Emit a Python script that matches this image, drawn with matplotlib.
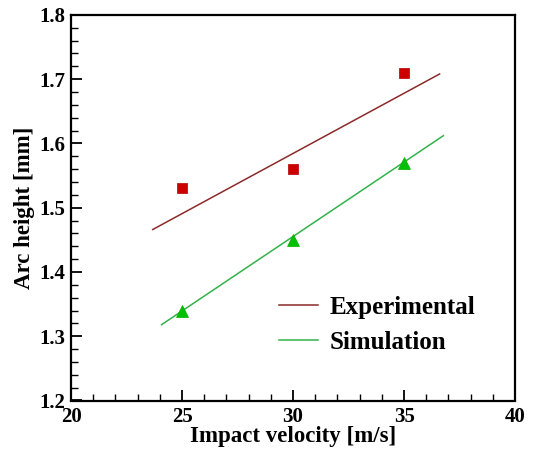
import matplotlib
matplotlib.use("Agg")
import matplotlib.pyplot as plt
from matplotlib.ticker import MultipleLocator

plt.rcParams['font.family'] = ['Liberation Serif', 'DejaVu Serif']
plt.rcParams['font.weight'] = 'bold'

velocity = [25, 30, 35]
exp_height = [1.53, 1.56, 1.71]
sim_height = [1.34, 1.45, 1.57]

exp_fit_x = [23.68, 36.6]
exp_fit_y = [1.466, 1.708]
sim_fit_x = [24.08, 36.77]
sim_fit_y = [1.318, 1.612]

fig = plt.figure(figsize=(5.36, 4.5), dpi=100)
ax = fig.add_axes([0.1325, 0.11, 0.8285, 0.857])

ax.plot(exp_fit_x, exp_fit_y, color='#8c2a2a', lw=1.1, label='Experimental')
ax.plot(sim_fit_x, sim_fit_y, color='#33b24a', lw=1.1, label='Simulation')
ax.plot(velocity, exp_height, 's', color='#cc0000', ms=7, mec='#b00000', mew=0.5, ls='none')
ax.plot(velocity, sim_height, '^', color='#00c000', ms=8, mec='#00b000', mew=0.5, ls='none')

ax.set_xlim(20, 40)
ax.set_ylim(1.2, 1.8)
ax.xaxis.set_major_locator(MultipleLocator(5))
ax.xaxis.set_minor_locator(MultipleLocator(1))
ax.yaxis.set_major_locator(MultipleLocator(0.1))
ax.yaxis.set_minor_locator(MultipleLocator(0.02))
ax.yaxis.set_major_formatter(plt.FuncFormatter(lambda v, p: f"{v:.1f}"))

ax.tick_params(which='both', direction='in', top=False, right=False, width=1.3)
ax.tick_params(which='major', length=8, labelsize=15)
ax.tick_params(axis='y', which='major', pad=4)
ax.tick_params(axis='x', which='major', pad=5)
ax.tick_params(which='minor', length=5, width=1.0)
for lbl in ax.get_xticklabels() + ax.get_yticklabels():
    lbl.set_fontweight('bold')
for s in ax.spines.values():
    s.set_linewidth(1.6)

ax.set_xlabel('Impact velocity [m/s]', fontsize=16.5, fontweight='bold', labelpad=-1)
ax.set_ylabel('Arc height [mm]', fontsize=16.5, fontweight='bold', labelpad=3)

leg = ax.legend(loc='upper left', bbox_to_anchor=(0.468, 0.272), frameon=False,
                prop={'size': 18, 'weight': 'bold'}, handlelength=1.55, handletextpad=0.5,
                labelspacing=0.5, borderpad=0, borderaxespad=0)

fig.savefig('out.png', dpi=100)
